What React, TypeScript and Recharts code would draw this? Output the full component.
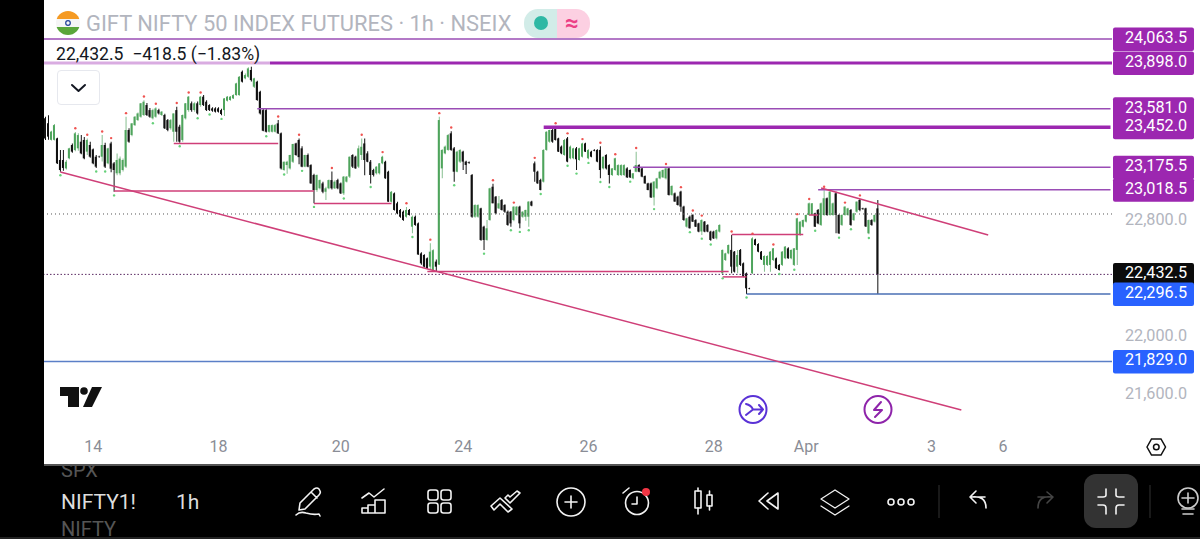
import { Bar, Cell, ComposedChart, Line, ReferenceLine, XAxis, YAxis } from 'recharts';

const opens = [
  23515, 23480, 23365, 23365, 23375, 23225, 23225, 23167, 23237, 23329,
  23294, 23306, 23352, 23364, 23283, 23329, 23299, 23248, 23250, 23248,
  23329, 23202, 23340, 23202, 23133, 23133, 23156, 23179, 23433, 23398,
  23467, 23502, 23525, 23537, 23606, 23571, 23514, 23525, 23571, 23537,
  23537, 23502, 23445, 23421, 23571, 23456, 23364, 23514, 23571, 23618,
  23571, 23618, 23606, 23664, 23629, 23606, 23583, 23583, 23583, 23571,
  23571, 23636, 23641, 23652, 23675, 23675, 23837, 23791, 23802, 23849,
  23733, 23768, 23698, 23571, 23571, 23421, 23421, 23421, 23479, 23410,
  23156, 23190, 23167, 23213, 23340, 23364, 23306, 23179, 23260, 23190,
  23121, 23017, 23029, 23063, 23005, 23029, 23086, 23029, 23086, 23063,
  22994, 23075, 23110, 23260, 23248, 23179, 23260, 23340, 23271, 23213,
  23156, 23133, 23133, 23202, 23213, 23144, 22936, 22994, 22925, 22879,
  22867, 22832, 22879, 22763, 22832, 22786, 22578, 22567, 22544, 22486,
  22463, 22521, 22500, 23167, 23271, 23295, 23410, 23306, 23144, 23214,
  23283, 23214, 23210, 23121, 22832, 22832, 22890, 22763, 22671, 22809,
  23040, 22971, 22890, 22948, 22913, 22867, 22867, 22809, 22844, 22902,
  22832, 22832, 22832, 22937, 23202, 23144, 23087, 23075, 23295, 23352,
  23433, 23445, 23375, 23318, 23260, 23375, 23237, 23237, 23306, 23225,
  23248, 23340, 23237, 23283, 23295, 23295, 23295, 23167, 23260, 23190,
  23121, 23156, 23121, 23121, 23121, 23167, 23156, 23098, 23144, 23190,
  23167, 23114, 23063, 23063, 22966, 23029, 23098, 23105, 23098, 23167,
  22983, 22994, 22971, 23006, 22902, 22763, 22832, 22844, 22809, 22786,
  22730, 22798, 22775, 22729, 22729, 22682, 22729, 22440, 22532, 22578,
  22602, 22590, 22486, 22602, 22509, 22440, 22338, 22440, 22675, 22643,
  22590, 22498, 22498, 22498, 22532, 22544, 22498, 22498, 22544, 22613,
  22544, 22498, 22602, 22705, 22763, 22798, 22844, 22844, 22856, 22879,
  22775, 22844, 22960, 22844, 22844, 22994, 22844, 22775, 22844, 22844,
  22879, 22809, 22867, 22948, 22890, 22890, 22717, 22809, 22798, 22890,
];

const highs = [
  23525, 23535, 23428, 23475, 23380, 23294, 23294, 23225, 23310, 23340,
  23420, 23410, 23398, 23385, 23375, 23352, 23305, 23260, 23255, 23398,
  23345, 23310, 23352, 23212, 23271, 23250, 23235, 23525, 23445, 23482,
  23530, 23555, 23620, 23640, 23620, 23585, 23580, 23590, 23580, 23565,
  23545, 23510, 23510, 23548, 23595, 23470, 23540, 23620, 23668, 23630,
  23625, 23630, 23668, 23675, 23640, 23612, 23590, 23590, 23590, 23580,
  23655, 23668, 23668, 23680, 23760, 23808, 23845, 23825, 23868, 23875,
  23795, 23775, 23705, 23580, 23578, 23470, 23472, 23475, 23502, 23415,
  23215, 23220, 23262, 23337, 23345, 23375, 23320, 23262, 23270, 23195,
  23130, 23125, 23090, 23075, 23040, 23090, 23145, 23085, 23095, 23070,
  23115, 23115, 23250, 23265, 23255, 23325, 23375, 23375, 23285, 23225,
  23165, 23182, 23205, 23255, 23220, 23150, 23010, 23000, 22935, 22885,
  22875, 22900, 22885, 22840, 22840, 22792, 22585, 22572, 22550, 22648,
  22606, 22535, 23525, 23300, 23325, 23405, 23425, 23315, 23290, 23300,
  23290, 23220, 23215, 23128, 22918, 22918, 22895, 22770, 22810, 23032,
  23060, 22975, 22975, 22955, 22918, 22875, 22872, 22905, 22905, 22908,
  22870, 22880, 22940, 22942, 23215, 23150, 23095, 23300, 23425, 23435,
  23440, 23455, 23380, 23325, 23370, 23385, 23325, 23310, 23315, 23310,
  23345, 23345, 23300, 23290, 23300, 23300, 23320, 23250, 23265, 23195,
  23170, 23240, 23195, 23195, 23195, 23175, 23160, 23135, 23283, 23195,
  23172, 23118, 23068, 23070, 23080, 23103, 23150, 23160, 23172, 23172,
  23050, 23000, 22978, 23012, 22908, 22825, 22840, 22850, 22815, 22790,
  22815, 22803, 22780, 22735, 22735, 22745, 22780, 22605, 22582, 22640,
  22705, 22595, 22602, 22608, 22515, 22445, 22340, 22690, 22680, 22648,
  22595, 22565, 22565, 22595, 22615, 22550, 22505, 22595, 22630, 22620,
  22605, 22615, 22825, 22800, 22812, 22848, 22930, 22928, 22860, 22885,
  22930, 23015, 22965, 23010, 22930, 23005, 22850, 22850, 22905, 22895,
  22885, 22860, 22938, 22955, 22895, 22895, 22812, 22815, 22848, 22948,
];

const lows = [
  23364, 23365, 23360, 23360, 23197, 23144, 23150, 23160, 23230, 23275,
  23285, 23290, 23265, 23230, 23260, 23240, 23195, 23170, 23240, 23215,
  23170, 23195, 23140, 23005, 23120, 23120, 23145, 23170, 23345, 23390,
  23460, 23495, 23518, 23530, 23530, 23518, 23505, 23518, 23540, 23530,
  23440, 23425, 23435, 23352, 23352, 23345, 23352, 23505, 23560, 23560,
  23560, 23540, 23595, 23600, 23565, 23565, 23560, 23555, 23555, 23535,
  23530, 23630, 23636, 23648, 23670, 23670, 23762, 23785, 23795, 23770,
  23725, 23636, 23540, 23425, 23415, 23415, 23415, 23415, 23405, 23160,
  23150, 23130, 23160, 23205, 23255, 23195, 23175, 23175, 23175, 23060,
  22925, 23005, 23020, 22995, 22948, 23022, 23020, 23025, 23022, 22990,
  22983, 23070, 23100, 23170, 23165, 23170, 23225, 23120, 23210, 23063,
  23110, 23125, 23125, 23195, 23095, 22935, 22930, 22875, 22850, 22825,
  22805, 22825, 22840, 22717, 22770, 22568, 22500, 22480, 22470, 22463,
  22450, 22455, 22497, 23098, 23265, 23290, 23290, 23075, 23140, 23205,
  23156, 23128, 23200, 22825, 22825, 22825, 22665, 22601, 22665, 22805,
  22925, 22850, 22885, 22875, 22860, 22770, 22763, 22800, 22838, 22752,
  22825, 22805, 22763, 22905, 23075, 23060, 23015, 23070, 23290, 23345,
  23345, 23360, 23280, 23265, 23255, 23210, 23230, 23230, 23156, 23220,
  23242, 23280, 23230, 23245, 23285, 23210, 23098, 23160, 23160, 23063,
  23115, 23150, 23115, 23115, 23115, 23100, 23100, 23092, 23140, 23140,
  23105, 23060, 23015, 22962, 22910, 23022, 23092, 23100, 23090, 22980,
  22978, 22935, 22910, 22867, 22805, 22755, 22750, 22795, 22760, 22725,
  22705, 22725, 22725, 22665, 22678, 22675, 22722, 22430, 22525, 22572,
  22440, 22445, 22440, 22490, 22412, 22297, 22330, 22435, 22632, 22585,
  22532, 22451, 22490, 22451, 22525, 22470, 22460, 22490, 22538, 22540,
  22538, 22490, 22498, 22700, 22758, 22792, 22838, 22840, 22760, 22780,
  22768, 22838, 22838, 22838, 22838, 22717, 22712, 22768, 22838, 22838,
  22770, 22802, 22860, 22870, 22880, 22760, 22710, 22770, 22792, 22296,
];

const closes = [
  23375, 23387, 23422, 23467, 23202, 23156, 23170, 23213, 23306, 23283,
  23410, 23398, 23271, 23237, 23364, 23248, 23202, 23179, 23248, 23329,
  23179, 23306, 23165, 23156, 23225, 23235, 23225, 23433, 23352, 23479,
  23525, 23548, 23618, 23629, 23537, 23525, 23571, 23583, 23548, 23560,
  23445, 23433, 23502, 23548, 23421, 23352, 23537, 23618, 23664, 23571,
  23618, 23548, 23664, 23606, 23571, 23571, 23567, 23560, 23560, 23544,
  23652, 23664, 23664, 23675, 23756, 23802, 23768, 23814, 23860, 23779,
  23791, 23641, 23548, 23428, 23421, 23467, 23467, 23467, 23410, 23167,
  23213, 23213, 23260, 23336, 23260, 23245, 23179, 23260, 23179, 23063,
  23017, 23121, 23086, 23005, 23029, 23086, 23029, 23075, 23029, 22994,
  23110, 23110, 23248, 23179, 23167, 23306, 23317, 23225, 23213, 23121,
  23121, 23179, 23202, 23248, 23098, 22936, 23005, 22879, 22855, 22832,
  22809, 22879, 22844, 22832, 22775, 22570, 22509, 22486, 22474, 22590,
  22600, 22486, 23502, 23295, 23318, 23398, 23295, 23144, 23283, 23295,
  23214, 23191, 23205, 22832, 22913, 22913, 22671, 22671, 22752, 23029,
  22925, 22856, 22925, 22879, 22867, 22775, 22786, 22902, 22902, 22786,
  22867, 22879, 22937, 22909, 23144, 23063, 23017, 23295, 23421, 23433,
  23352, 23364, 23283, 23271, 23364, 23214, 23318, 23306, 23230, 23306,
  23340, 23283, 23295, 23248, 23290, 23214, 23156, 23248, 23167, 23121,
  23167, 23237, 23190, 23190, 23190, 23105, 23105, 23133, 23190, 23144,
  23110, 23063, 23017, 22966, 23075, 23098, 23144, 23156, 23167, 22983,
  23045, 22937, 22913, 22902, 22809, 22821, 22752, 22798, 22763, 22729,
  22809, 22729, 22729, 22671, 22682, 22740, 22775, 22602, 22578, 22636,
  22486, 22451, 22567, 22498, 22417, 22336, 22334, 22682, 22636, 22590,
  22537, 22560, 22560, 22590, 22613, 22475, 22463, 22590, 22625, 22544,
  22602, 22613, 22821, 22798, 22809, 22844, 22925, 22925, 22763, 22786,
  22925, 22960, 22844, 23006, 22925, 22844, 22717, 22844, 22902, 22890,
  22775, 22856, 22937, 22879, 22885, 22765, 22809, 22775, 22844, 22432.5,
];

// bars carrying the little swing high / swing low dots
const swingHighBars = [10, 14, 19, 22, 27, 33, 37, 44, 48, 52, 69, 78, 85, 96, 106, 113, 121, 129, 132, 136, 150, 157, 164, 171, 175, 180, 186, 191, 198, 208, 213, 217, 220, 230, 237, 244, 252, 256, 261, 268, 273];
const swingLowBars = [5, 17, 20, 23, 36, 45, 51, 55, 59, 74, 80, 86, 90, 100, 109, 123, 137, 147, 156, 159, 162, 166, 175, 178, 182, 186, 189, 196, 204, 216, 220, 223, 227, 235, 246, 251, 258, 266, 270, 276];

const dateSlots = [16, 58, 99, 140, 182, 224, 255, 297, 321];
const dateLabels = ['14', '18', '20', '24', '26', '28', 'Apr', '3', '6'];

const plainPrices = [22800, 22000, 21600];
const purplePrices = [24063.5, 23898, 23581, 23452, 23175.5, 23018.5];
const lastPrice = 22432.5;
const bluePrices = [22296.5, 21829];
const axisPrices = [...plainPrices, ...purplePrices, lastPrice, ...bluePrices];

const PURPLE = '#9c27b0';
const LINE_PURPLE = '#9a4db5';
const BLUE = '#2962ff';
const PINK = '#cf3f78';
const GREEN = '#4ea45c';
const GREEN_WICK = '#86bf90';
const BLACK = '#111111';

const SLOT_COUNT = 358;
const LAST_SLOT = SLOT_COUNT - 1;

const thickLevels = [
  { price: 23452, from: 167 },
];
const thinLevels = [
  { price: 23581, from: 71 },
  { price: 23175.5, from: 197 },
  { price: 23018.5, from: 259 },
];
const supportLevels = [
  { price: 23340, from: 43, to: 78 },
  { price: 23011, from: 23, to: 90 },
  { price: 22923, from: 90, to: 116 },
  { price: 22453, from: 128, to: 229 },
  { price: 22415, from: 227, to: 235 },
  { price: 22709, from: 230, to: 254 },
  { price: 22844, from: 256, to: 259 },
];
const trendLines = [
  { from: 5, fromPrice: 23142, to: 307, toPrice: 21493 },
  { from: 260, fromPrice: 23031, to: 316, toPrice: 22706 },
];

const tableData = Array.from({ length: SLOT_COUNT }, (_, slot) => {
  if (slot >= opens.length) return { slot };
  return {
    slot,
    wick: [lows[slot], highs[slot]],
    body: [Math.min(opens[slot], closes[slot]), Math.max(opens[slot], closes[slot])],
    up: closes[slot] >= opens[slot],
    swingHigh: swingHighBars.includes(slot) ? highs[slot] + 25 : null,
    swingLow: swingLowBars.includes(slot) ? lows[slot] - 25 : null,
  };
});

function PriceTick({ y, payload }: any) {
  const value = payload.value as number;
  let fill = '';
  if (purplePrices.includes(value)) fill = PURPLE;
  if (bluePrices.includes(value)) fill = BLUE;
  if (value === lastPrice) fill = '#0b0b0b';
  const text = value.toLocaleString('en-US', { minimumFractionDigits: 1 });
  return (
    <g>
      {fill && <rect x={1113} y={y - 11.5} width={81} height={23.5} rx={2} fill={fill} />}
      <text
        x={1187}
        y={y - 1.5}
        textAnchor="end"
        dominantBaseline="central"
        fontSize={16.2}
        fontFamily="Roboto"
        fill={fill ? '#ffffff' : '#b2b5be'}
      >
        {text}
      </text>
    </g>
  );
}

function Toolbar() {
  const s = { fill: 'none', stroke: '#f2f2f2', strokeWidth: 1.6, strokeLinecap: 'round', strokeLinejoin: 'round' } as const;
  return (
    <svg width={1200} height={539} style={{ position: 'absolute', left: 0, top: 0, pointerEvents: 'none' }}>
      {/* pencil */}
      <g {...s}>
        <path d="M300 503 L314 489 Q317 487 319 489 L320 491 Q321 493 319 495 L305 509 L299 510 Z M311 492 L317 498" />
        <path d="M296 515 Q300 511 306 513 Q313 515 319 514 L320 516" />
      </g>
      {/* indicators */}
      <g {...s}>
        <path d="M362 498 L369 493 L374 497 L384 489" />
        <path d="M362 513 V508 H368 V513 M368 513 V505 H375 V513 M375 513 V500 H385 V513 H362" />
      </g>
      {/* grid */}
      <g {...s}>
        <rect x={428} y={490} width={10} height={10} rx={2.5} />
        <rect x={441} y={490} width={10} height={10} rx={2.5} />
        <rect x={428} y={503} width={10} height={10} rx={2.5} />
        <rect x={441} y={503} width={10} height={10} rx={2.5} />
      </g>
      {/* drawing favourites */}
      <g {...s}>
        <path d="M491 506 L500 498 L512 509 L508 512 L500 504 L494 510 Z M505 498 L510 503 L520 493 L517 491 L510 497 L508 495 Z" />
      </g>
      {/* plus */}
      <g {...s}>
        <circle cx={571} cy={502} r={14} />
        <path d="M565 502 H577 M571 496 V508" />
      </g>
      {/* alarm */}
      <g {...s}>
        <circle cx={637} cy={503} r={11.5} />
        <path d="M637 497 V504 H632 M623 493 L629 488" />
      </g>
      <circle cx={646} cy={492} r={4} fill="#f23645" />
      {/* candle toggle */}
      <g {...s}>
        <rect x={695} y={491} width={6} height={17} />
        <rect x={707} y={495} width={5} height={11} />
        <path d="M698 488 V491 M698 508 V514 M709.5 491 V495 M709.5 506 V510" />
      </g>
      {/* replay */}
      <g {...s}>
        <path d="M768 493 L759 501 L768 509 M778 493 L767 501 L778 509 Z" />
      </g>
      {/* layers */}
      <g {...s} strokeWidth={1.3}>
        <path d="M835 490 L849 499 L835 508 L821 499 Z M821 506 L835 515 L849 506" />
      </g>
      {/* dots */}
      <g {...s}>
        <circle cx={891} cy={502} r={3} />
        <circle cx={901} cy={502} r={3} />
        <circle cx={911} cy={502} r={3} />
      </g>
      <line x1={939} y1={485} x2={939} y2={518} stroke="#333" />
      <path d="M985 497 L971 497 M976 491 L970 497 L976 503 M971 497 Q986 495 986 508" {...s} />
      <path d="M1038 497 L1052 497 M1047 492 L1053 497 L1047 503 M1052 497 Q1038 495 1038 508" {...s} stroke="#444" />
      <rect x={1084} y={474} width={54} height={54} rx={12} fill="#333333" />
      <g {...s}>
        <path d="M1106 489 V495 Q1106 497 1103 497 H1098 M1116 489 V495 Q1116 497 1119 497 H1124" />
        <path d="M1106 514 V508 Q1106 505 1103 505 H1098 M1116 514 V508 Q1116 505 1119 505 H1124" />
      </g>
      <line x1={1150} y1={485} x2={1150} y2={518} stroke="#333" />
      <g {...s} stroke="#cccccc">
        <circle cx={1188} cy={498} r={10} />
        <path d="M1188 493 V503 M1182 498 H1194 M1182 509 H1194 M1183 514 H1193" />
      </g>
      {/* logo */}
      <path d="M60 387 H79 V407 H68 V396 H60 Z" fill="#111" />
      <circle cx={84} cy={391} r={3.8} fill="#111" />
      <path d="M92 387 H102 L92 407 H83 Z" fill="#111" />
      {/* chart events */}
      <g fill="none" strokeWidth={2} strokeLinecap="round" strokeLinejoin="round">
        <g stroke="#5a32d6">
          <circle cx={753} cy={409.5} r={13.5} />
          <path d="M746 404 Q751 405 753 409.5 L746 415 M753 409.5 H763 M759 405 L763 409.5 L759 414" />
        </g>
        <g stroke="#8e24aa">
          <circle cx={878} cy={409.5} r={13.5} />
          <path d="M881 402 L874 410 H882 L875 417" />
        </g>
      </g>
      {/* scale settings */}
      <path d="M1147 447 L1151.5 439 H1161 L1165.5 447 L1161 455 H1151.5 Z" fill="none" stroke="#111" strokeWidth={1.5} />
      <circle cx={1156.3} cy={447} r={2.8} fill="none" stroke="#111" strokeWidth={1.5} />
      {/* flag */}
      <clipPath id="flag">
        <circle cx={68} cy={23} r={12} />
      </clipPath>
      <g clipPath="url(#flag)">
        <rect x={56} y={11} width={24} height={8} fill="#f59a23" />
        <rect x={56} y={19} width={24} height={8} fill="#f5f5f5" />
        <rect x={56} y={27} width={24} height={8} fill="#5aa63a" />
      </g>
      <circle cx={68} cy={23} r={2.3} fill="none" stroke="#1f3f99" strokeWidth={1.2} />
    </svg>
  );
}

export default function App() {
  return (
    <div style={{ position: 'fixed', left: 0, top: 0, width: 1200, height: 539, background: '#000', overflow: 'hidden', fontFamily: 'Roboto' }}>
      <div style={{ position: 'absolute', left: 61, top: 458, fontSize: 20, lineHeight: '24px', color: '#555' }}>SPX</div>
      <div style={{ position: 'absolute', left: 44, top: 0, width: 1156, height: 464, background: '#fff' }} />
      <div style={{ position: 'absolute', left: 44, top: 464, width: 1156, height: 2, background: '#555' }} />
      <div style={{ position: 'absolute', left: 61, top: 490, fontSize: 21, lineHeight: '24px', color: '#dddddd' }}>NIFTY1!</div>
      <div style={{ position: 'absolute', left: 176, top: 490, fontSize: 21, lineHeight: '24px', color: '#dddddd' }}>1h</div>
      <div style={{ position: 'absolute', left: 61, top: 519, fontSize: 20, lineHeight: '20px', color: '#555' }}>NIFTY</div>
      <div style={{ position: 'absolute', left: 0, top: 537, width: 1200, height: 2, background: '#222' }} />

      <div style={{ position: 'absolute', left: 0, top: 0 }}>
        <ComposedChart width={1200} height={464} data={tableData} margin={{ top: 0, right: 0, bottom: 0, left: 44 }} barGap={0}>
          <XAxis
            xAxisId="bodies"
            dataKey="slot"
            type="category"
            ticks={dateSlots}
            interval={0}
            tickFormatter={(slot) => dateLabels[dateSlots.indexOf(slot)]}
            axisLine={false}
            tickLine={false}
            height={34}
            tickMargin={5}
            tick={{ fill: '#8a8d96', fontSize: 16, fontFamily: 'Roboto' }}
          />
          <XAxis xAxisId="wicks" dataKey="slot" type="category" hide />
          <YAxis
            yAxisId="price"
            orientation="right"
            type="number"
            domain={[21354, 24334]}
            allowDataOverflow
            ticks={axisPrices}
            interval={0}
            width={88}
            axisLine={false}
            tickLine={false}
            tick={(props: any) => <PriceTick {...props} />}
          />

          <ReferenceLine xAxisId="bodies" yAxisId="price" y={22851} stroke="#555" strokeDasharray="1 3" />
          <ReferenceLine xAxisId="bodies" yAxisId="price" y={lastPrice} stroke="#5a2a62" strokeDasharray="1.5 2" />
          <ReferenceLine xAxisId="bodies" yAxisId="price" y={24063.5} stroke={LINE_PURPLE} strokeWidth={1.5} />
          <ReferenceLine xAxisId="bodies" yAxisId="price" y={23898} stroke={PURPLE} strokeWidth={3} />
          <ReferenceLine xAxisId="bodies" yAxisId="price" y={21829} stroke="#5b7fc7" strokeWidth={1.5} />
          <ReferenceLine
            xAxisId="bodies"
            yAxisId="price"
            segment={[{ x: 235, y: 22296.5 }, { x: LAST_SLOT, y: 22296.5 }]}
            stroke="#4a6fb5"
            strokeWidth={1.5}
          />
          {thickLevels.map((l) => (
            <ReferenceLine
              key={l.price}
              xAxisId="bodies"
              yAxisId="price"
              segment={[{ x: l.from, y: l.price }, { x: LAST_SLOT, y: l.price }]}
              stroke={PURPLE}
              strokeWidth={3.5}
            />
          ))}
          {thinLevels.map((l) => (
            <ReferenceLine
              key={l.price}
              xAxisId="bodies"
              yAxisId="price"
              segment={[{ x: l.from, y: l.price }, { x: LAST_SLOT, y: l.price }]}
              stroke={LINE_PURPLE}
              strokeWidth={1.5}
            />
          ))}
          {supportLevels.map((l) => (
            <ReferenceLine
              key={l.price}
              xAxisId="bodies"
              yAxisId="price"
              segment={[{ x: l.from, y: l.price }, { x: l.to, y: l.price }]}
              stroke={PINK}
              strokeWidth={1.5}
            />
          ))}
          {trendLines.map((t) => (
            <ReferenceLine
              key={t.from}
              xAxisId="bodies"
              yAxisId="price"
              segment={[{ x: t.from, y: t.fromPrice }, { x: t.to, y: t.toPrice }]}
              stroke={PINK}
              strokeWidth={1.5}
            />
          ))}

          <Bar xAxisId="wicks" yAxisId="price" dataKey="wick" barSize={1} isAnimationActive={false}>
            {tableData.map((d: any) => (
              <Cell key={d.slot} fill={d.up ? GREEN_WICK : BLACK} />
            ))}
          </Bar>
          <Bar xAxisId="bodies" yAxisId="price" dataKey="body" barSize={2} isAnimationActive={false}>
            {tableData.map((d: any) => (
              <Cell key={d.slot} fill={d.up ? GREEN : BLACK} />
            ))}
          </Bar>
          <Line
            xAxisId="bodies"
            yAxisId="price"
            dataKey="swingHigh"
            stroke="none"
            dot={{ r: 1.2, fill: '#ef5350', stroke: 'none' }}
            isAnimationActive={false}
          />
          <Line
            xAxisId="bodies"
            yAxisId="price"
            dataKey="swingLow"
            stroke="none"
            dot={{ r: 1.2, fill: '#66d17a', stroke: 'none' }}
            isAnimationActive={false}
          />
        </ComposedChart>
      </div>

      <div style={{ position: 'absolute', left: 44, top: 44, width: 226, height: 23, background: 'rgba(255,255,255,0.62)' }} />
      <div style={{ position: 'absolute', left: 86, top: 11, fontSize: 21.9, lineHeight: '26px', color: '#b2b5be', whiteSpace: 'nowrap' }}>
        GIFT NIFTY 50 INDEX FUTURES · 1h · NSEIX
      </div>
      <div style={{ position: 'absolute', left: 56, top: 44, fontSize: 17.6, lineHeight: '20px', color: '#131722', whiteSpace: 'pre' }}>
        {'22,432.5  −418.5 (−1.83%)'}
      </div>
      <div style={{ position: 'absolute', left: 524, top: 9, width: 33, height: 29, borderRadius: '14px 0 0 14px', background: '#d2ece8' }} />
      <div style={{ position: 'absolute', left: 557, top: 9, width: 33, height: 29, borderRadius: '0 14px 14px 0', background: '#fcd0e2' }} />
      <div style={{ position: 'absolute', left: 534, top: 16, width: 14, height: 14, borderRadius: 7, background: '#2eb8a4' }} />
      <div style={{ position: 'absolute', left: 561, top: 8, width: 22, textAlign: 'center', fontSize: 24, lineHeight: '30px', color: '#ec3f86', fontWeight: 700 }}>≈</div>
      <div style={{ position: 'absolute', left: 57, top: 70, width: 41, height: 33, border: '1px solid #e6e8ee', borderRadius: 4, background: '#fff' }}>
        <svg width={41} height={33}>
          <path d="M14 14 L20.5 20 L27 14" fill="none" stroke="#131722" strokeWidth={2} strokeLinecap="round" strokeLinejoin="round" />
        </svg>
      </div>

      <Toolbar />
    </div>
  );
}
